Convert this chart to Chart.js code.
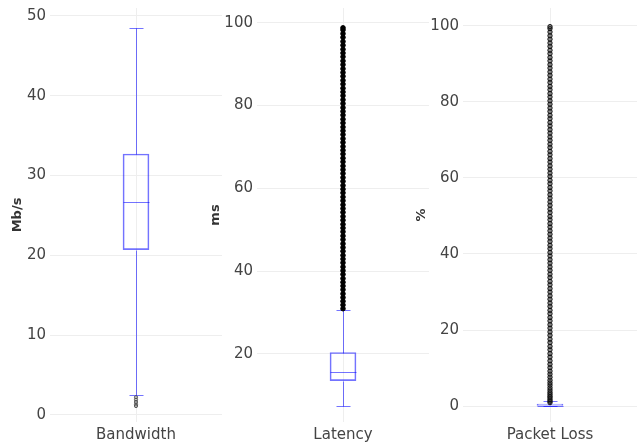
<!DOCTYPE html>
<html>
<head>
<meta charset="utf-8">
<script src="https://cdn.jsdelivr.net/npm/chart.js@4.4.1/dist/chart.umd.min.js"></script>
<style>
html, body { margin: 0; padding: 0; background: #fff; }
body { width: 643px; height: 442px; position: relative; overflow: hidden; }
.panel { position: absolute; top: 0; height: 442px; }
</style>
</head>
<body>
<div class="panel" style="left:0;width:228px"><canvas id="bandwidth-box"></canvas></div>
<div class="panel" style="left:200px;width:235px"><canvas id="latency-box"></canvas></div>
<div class="panel" style="left:405px;width:238px"><canvas id="packet-loss-box"></canvas></div>
<script>
// Categories and axis titles, one per panel
const categories = ['Bandwidth', 'Latency', 'Packet Loss'];
const axisTitles = ['Mb/s', 'ms', '%'];

// Box summaries: lower whisker, q1, median, q3, upper whisker
const bandwidthStats = [2.5, 20.7, 26.7, 32.7, 48.5];
const latencyStats = [7.4, 13.5, 15.6, 20.3, 30.6];
const packetLossStats = [0, 0, 0, 0.5, 1.2];

// Outliers (dense clouds are thinned out)
const bandwidthOutliers = [2.2, 1.9, 1.6, 1.3, 1.1];
const latencyOutliers = [30.9, 31.8, 32.7, 33.6, 34.5, 35.5, 36.4, 37.3, 38.2, 39.2, 40.1, 41, 42, 42.9, 43.8,
    44.8, 45.7, 46.6, 47.6, 48.5, 49.5, 50.4, 51.3, 52.3, 53.2, 54.2, 55.1, 56, 57, 57.9, 58.9, 59.8, 60.7,
    61.7, 62.6, 63.6, 64.5, 65.4, 66.4, 67.3, 68.3, 69.2, 70.1, 71.1, 72, 73, 73.9, 74.8, 75.8, 76.7, 77.7,
    78.6, 79.5, 80.5, 81.4, 82.4, 83.3, 84.2, 85.2, 86.1, 87.1, 88, 88.9, 89.9, 90.8, 91.8, 92.7, 93.6, 94.6,
    95.5, 96.5, 97.4, 98.3, 98.8];
const packetLossOutliers = [0.9, 1.3, 1.7, 2.2, 2.6, 3.1, 3.6, 4.2, 4.8, 5.5, 6.1, 6.8, 7.6, 8.4, 9.2, 10.1,
    11, 11.9, 12.9, 13.8, 14.8, 15.7, 16.7, 17.6, 18.6, 19.5, 20.5, 21.4, 22.4, 23.3, 24.3, 25.2, 26.2, 27.1,
    28.1, 29, 30, 30.9, 31.9, 32.8, 33.8, 34.7, 35.7, 36.6, 37.6, 38.5, 39.5, 40.4, 41.4, 42.3, 43.3, 44.2,
    45.2, 46.1, 47.1, 48, 49, 49.9, 50.9, 51.8, 52.8, 53.7, 54.7, 55.6, 56.6, 57.5, 58.5, 59.4, 60.4, 61.3,
    62.3, 63.2, 64.2, 65.1, 66.1, 67, 68, 68.9, 69.9, 70.8, 71.8, 72.7, 73.7, 74.6, 75.6, 76.5, 77.5, 78.4,
    79.4, 80.3, 81.3, 82.2, 83.2, 84.1, 85.1, 86, 87, 87.9, 88.9, 89.8, 90.8, 91.7, 92.7, 93.6, 94.6, 95.5,
    96.5, 97.4, 98.4, 99.3, 99.8];

// Axis ranges and tick labels
const yRanges = [[-0.9, 51], [3.5, 103.6], [-4.2, 104.7]];
const bandwidthTicks = [0, 10, 20, 30, 40, 50];
const latencyTicks = [20, 40, 60, 80, 100];
const packetLossTicks = [0, 20, 40, 60, 80, 100];

const boxColor = 'rgba(0, 0, 255, 0.55)';
const textColor = '#444';
const gridColor = '#eeeeee';

//Draws whisker stems, caps and the median line through the chart's scales
const whiskerPlugin = {
    id: 'whiskers',
    beforeDatasetsDraw(chart, args, opts){
        const {ctx, scales: {x, y}} = chart;
        const [lo, q1, med, q3, hi] = opts.stats;
        const cx = Math.round(x.getPixelForValue(0)) + 0.5;
        const py = (v) => Math.round(y.getPixelForValue(v)) + 0.5;
        ctx.save();
        ctx.strokeStyle = boxColor;
        ctx.lineWidth = 1;
        ctx.beginPath();
        ctx.moveTo(cx, py(lo)); ctx.lineTo(cx, py(q1));
        ctx.moveTo(cx, py(q3)); ctx.lineTo(cx, py(hi));
        ctx.moveTo(cx - 7, py(lo)); ctx.lineTo(cx + 7, py(lo));
        ctx.moveTo(cx - 7, py(hi)); ctx.lineTo(cx + 7, py(hi));
        ctx.moveTo(cx - 13, py(med)); ctx.lineTo(cx + 13, py(med));
        ctx.stroke();
        ctx.restore();
    }
};

function makeBoxChart(canvasId, i, stats, outliers, tickValues, yWidth, titlePad, rightPad, pointStyle){
    return new Chart(canvasId, {
        type: 'bar',
        data: {
            labels: [categories[i]],
            datasets: [{
                data: [[stats[1], stats[3]]],
                backgroundColor: 'rgba(255,255,255,0)',
                borderColor: boxColor,
                borderWidth: 1,
                borderSkipped: false,
                barThickness: 26,
                order: 2
            }, {
                type: 'line',
                data: outliers.map(v => ({x: categories[i], y: v})),
                showLine: false,
                pointRadius: pointStyle.radius,
                pointBorderWidth: 1,
                pointBorderColor: pointStyle.border,
                pointBackgroundColor: pointStyle.fill,
                order: 1
            }]
        },
        options: {
            responsive: true,
            maintainAspectRatio: false,
            animation: false,
            events: [],
            layout: {padding: {top: 8, bottom: 0, left: 0, right: rightPad}},
            plugins: {
                legend: {display: false},
                tooltip: {enabled: false},
                whiskers: {stats: stats}
            },
            scales: {
                x: {
                    grid: {color: gridColor, offset: false, drawTicks: false},
                    border: {display: false},
                    ticks: {color: textColor, font: {family: 'DejaVu Sans', size: 15}, padding: 4},
                    afterFit: (scale) => { scale.height = 20; scale.paddingLeft = 0; scale.paddingRight = 0; }
                },
                y: {
                    min: yRanges[i][0],
                    max: yRanges[i][1],
                    grid: {color: gridColor, drawTicks: false},
                    border: {display: false},
                    afterBuildTicks: (scale) => { scale.ticks = tickValues.map(v => ({value: v})); },
                    ticks: {color: textColor, font: {family: 'DejaVu Sans', size: 15}, padding: 4},
                    title: {display: true, text: axisTitles[i], color: '#333',
                        font: {family: 'DejaVu Sans', size: 13, weight: 'bold'}, padding: {top: titlePad, bottom: 0}},
                    afterFit: (scale) => { scale.width = yWidth; scale.paddingTop = 0; scale.paddingBottom = 0; }
                }
            }
        },
        plugins: [whiskerPlugin]
    });
}

const bandwidthChart = makeBoxChart('bandwidth-box', 0, bandwidthStats, bandwidthOutliers, bandwidthTicks, 50, 10, 6,
    {radius: 1.6, border: 'rgba(60,60,60,0.8)', fill: 'rgba(160,160,160,0.4)'});
const latencyChart = makeBoxChart('latency-box', 1, latencyStats, latencyOutliers, latencyTicks, 57, 8, 6,
    {radius: 2.3, border: '#000', fill: '#000'});
const packetLossChart = makeBoxChart('packet-loss-box', 2, packetLossStats, packetLossOutliers, packetLossTicks, 58, 9, 6,
    {radius: 2.2, border: 'rgba(0,0,0,0.85)', fill: 'rgba(70,70,70,0.6)'});
</script>
</body>
</html>
